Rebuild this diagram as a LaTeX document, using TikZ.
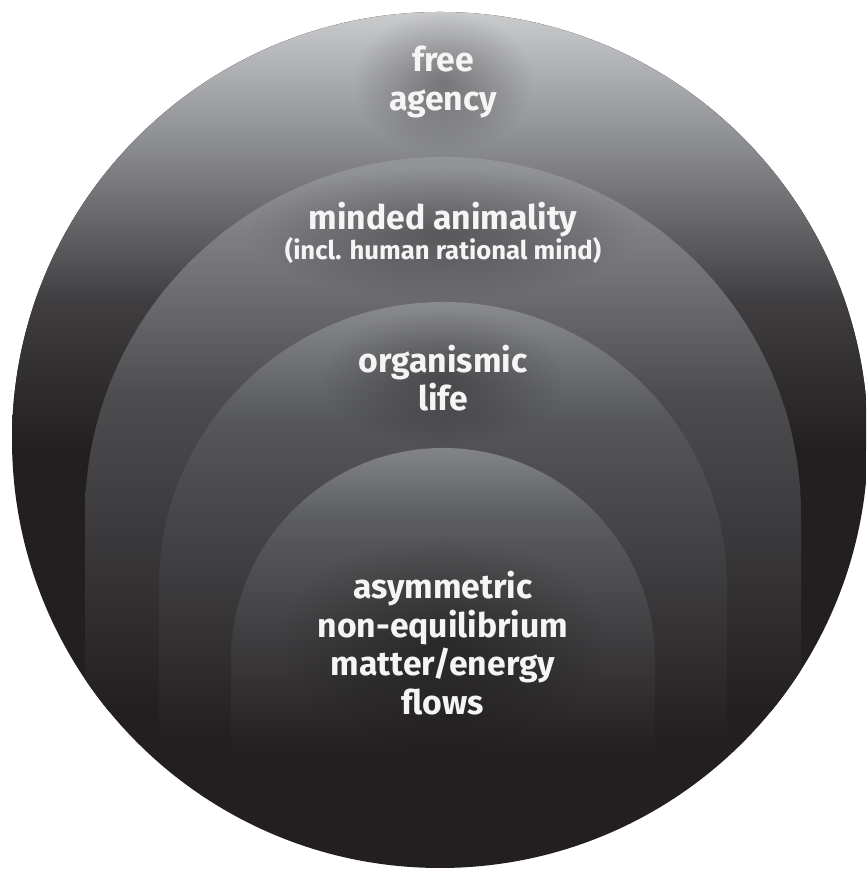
\documentclass[tikz,border=0pt]{standalone}
\usepackage{fontspec}
\setmainfont{Fira Sans}
\usepackage{tikz}
\usetikzlibrary{
    fadings
}
\definecolor{bg}{HTML}{231F20}
\definecolor{outertop}{HTML}{CACBCD}
\definecolor{outerhi}{HTML}{85868A}
\definecolor{outermid}{HTML}{403E40}
\definecolor{animaltop}{HTML}{95969A}
\definecolor{animalmid}{HTML}{4C4C4F}
\definecolor{lifetop}{HTML}{8A8B8E}
\definecolor{lifemid}{HTML}{56575A}
\definecolor{flowtop}{HTML}{838487}
\definecolor{flowmid}{HTML}{5B5C5F}
\tikzfading[name=glowfade, inner color=transparent!40, outer color=transparent!100]
\newcommand{\subtext}{\fontsize{7.3}{8.5}\selectfont}

\begin{document}
\begin{tikzpicture}[x=0.1mm,y=0.1mm,font=\bfseries\fontsize{9.6}{11}\selectfont]
    \tikzstyle{ring label}=[text=white!96!black, align=center, inner sep=10pt,
        preaction={fill=black, fill opacity=.5, path fading=glowfade}]

    \useasboundingbox (0,0) rectangle (866,872);
    \begin{scope}
        \clip (440,432) circle (428);
        \fill[bg] (0,0) rectangle (866,872);
        \shade[top color=outertop, bottom color=outerhi] (0,860) rectangle (866,715);
        \shade[top color=outerhi, bottom color=outermid] (0,715) rectangle (866,572);
        \shade[top color=outermid, bottom color=bg] (0,572) rectangle (866,422);

        \begin{scope}
            \clip (85,100) -- (85,357) arc (180:0:358) -- (801,100) -- cycle;
            \shade[top color=animaltop, bottom color=animalmid] (85,715) rectangle (801,472);
            \shade[top color=animalmid, bottom color=bg] (85,472) rectangle (801,160);
        \end{scope}

        \begin{scope}
            \clip (159,100) -- (159,286) arc (180:0:284) -- (727,100) -- cycle;
            \shade[top color=lifetop, bottom color=lifemid] (159,570) rectangle (727,452);
            \shade[top color=lifemid, bottom color=bg] (159,452) rectangle (727,132);
        \end{scope}

        \begin{scope}
            \clip (231,100) -- (231,212) arc (180:0:212) -- (655,100) -- cycle;
            \shade[top color=flowtop, bottom color=flowmid] (231,424) rectangle (655,352);
            \shade[top color=flowmid, bottom color=bg] (231,352) rectangle (655,120);
        \end{scope}
    \end{scope}

    \node[ring label] (F) at (443,790) {free\\agency};
    \node[ring label] (M) at (443,639) {minded animality\\[-2.5pt]{\subtext (incl. human rational mind)}};
    \node[ring label] (O) at (443,494) {organismic\\life};
    \node[ring label] (E) at (443,229) {asymmetric\\non-equilibrium\\matter/energy\\flows};
\end{tikzpicture}
\end{document}
